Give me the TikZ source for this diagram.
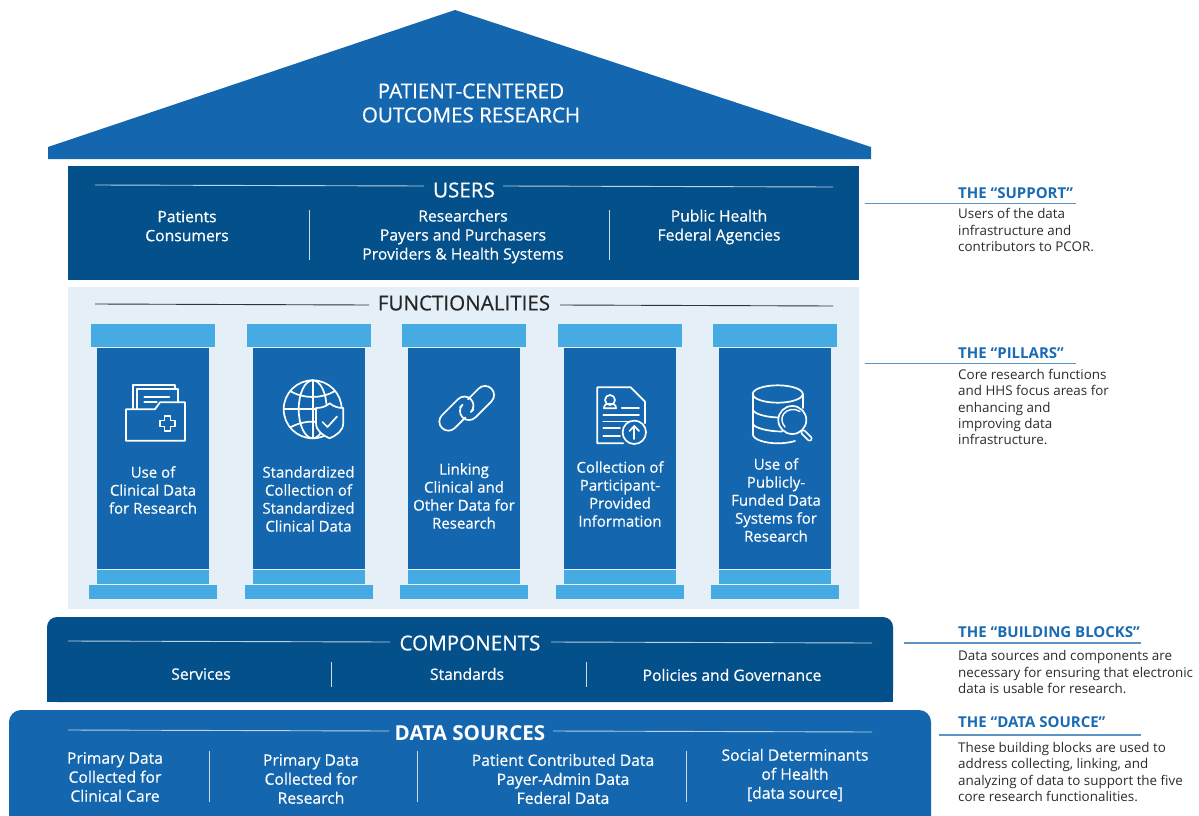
\documentclass[tikz,border=0pt]{standalone}
\usepackage{fontspec}
\setmainfont{Open Sans}
\definecolor{roofblue}{HTML}{1467AE}
\definecolor{navyblue}{HTML}{04508A}
\definecolor{panelblue}{HTML}{E4EFF7}
\definecolor{capblue}{HTML}{47ABE3}
\definecolor{headblue}{HTML}{1A6BB3}
\definecolor{leaderblue}{HTML}{5B93C3}
\definecolor{bodygrey}{HTML}{2B2B2B}
\tikzset{
    whitetxt/.style={text=white, align=center, inner sep=0pt, font=\fontsize{15.7}{19}\selectfont\addfontfeature{FakeBold=0.5}},
    titletxt/.style={text=white, align=center, inner sep=0pt, font=\fontsize{20.6}{24}\selectfont\addfontfeature{FakeBold=0.6}},
    pillartxt/.style={text=white, align=center, inner sep=0pt, font=\fontsize{15}{18}\selectfont\addfontfeature{FakeBold=0.4}},
    headtxt/.style={text=headblue, anchor=west, inner sep=0pt, font=\fontsize{15}{17}\selectfont\bfseries},
    bodytxt/.style={text=bodygrey, anchor=west, align=left, inner sep=0pt, font=\fontsize{13.4}{16.3}\selectfont},
    leader/.style={draw=leaderblue, line width=1.1pt},
    lightrule/.style={draw=white!75!navyblue, line width=0.9pt},
    divider/.style={draw=white!80!navyblue, line width=0.9pt},
    icon/.style={draw=white, line width=1.7pt, line join=round, line cap=round}
}
\begin{document}
\begin{tikzpicture}[x=1pt, y=-1pt]
    \useasboundingbox (0,0) rectangle (1199,816);
    \fill [roofblue] (455,10) -- (871,147) -- (871,159) -- (48,159) -- (48,147) -- cycle;
    \node [titletxt] (roofTitle) at (471,103) {PATIENT-CENTERED\\OUTCOMES RESEARCH};

    \fill [navyblue] (68,166) rectangle (859,280);
    \node [titletxt] (usersTitle) at (464,190) {USERS};
    \coordinate (usersRuleA) at (95,185);
    \coordinate (usersRuleB) at (424,186);
    \coordinate (usersRuleC) at (503,186);
    \coordinate (usersRuleD) at (833,187);
    \draw [lightrule] (usersRuleA) -- (usersRuleB);
    \draw [lightrule] (usersRuleC) -- (usersRuleD);
    \node [whitetxt] (usersLeft) at (187,226) {Patients\\Consumers};
    \node [whitetxt] (usersMid) at (463,236.5) {Researchers\\Payers and Purchasers\\Providers \& Health Systems};
    \node [whitetxt] (usersRight) at (719,227) {Public Health\\Federal Agencies};
    \foreach \x in {309.5,609.5}
        \draw [divider] (\x,210) -- (\x,260);

    \fill [panelblue] (68,287) rectangle (859,609);
    \node [titletxt, text=black!85] (funcTitle) at (464,303) {FUNCTIONALITIES};
    \coordinate (funcRuleA) at (95,304);
    \coordinate (funcRuleB) at (369,305);
    \coordinate (funcRuleC) at (560,305);
    \coordinate (funcRuleD) at (833,306);
    \draw [black!80, line width=0.9pt] (funcRuleA) -- (funcRuleB);
    \draw [black!80, line width=0.9pt] (funcRuleC) -- (funcRuleD);
    \foreach \x in {0,155.5,311,466.5,622} {
        \fill [capblue] (91+\x,324) rectangle (215+\x,347);
        \fill [roofblue] (97+\x,348) rectangle (209+\x,569);
        \fill [capblue] (97+\x,570) rectangle (209+\x,584);
        \fill [capblue] (89+\x,585) rectangle (217+\x,599);
    }
    \node [pillartxt] (pillarA) at (153,490) {Use of\\Clinical Data\\for Research};
    \node [pillartxt] (pillarB) at (308.5,499) {Standardized\\Collection of\\Standardized\\Clinical Data};
    \node [pillartxt] (pillarC) at (464,496) {Linking\\Clinical and\\Other Data for\\Research};
    \node [pillartxt] (pillarD) at (620,494) {Collection of\\Participant-\\Provided\\Information};
    \node [pillartxt] (pillarE) at (776,500) {Use of\\Publicly-\\Funded Data\\Systems for\\Research};

    \draw [icon] (132.7,409) -- (132.7,385) -- (175.3,385) -- (175.3,389);
    \draw [icon] (137.3,409) -- (137.3,389) -- (178.3,389) -- (178.3,402);
    \draw [icon] (144.3,396.7) -- (169.3,396.7);
    \draw [icon] (144.3,401.7) -- (156.7,401.7);
    \draw [icon] (126,440.7) -- (126,409.3) -- (155,409.3) -- (160,402.3) -- (185,402.3) -- (185,440.7) -- cycle;
    \draw [icon, line width=1.5pt] (164.7,415.8) -- (170.7,415.8) -- (170.7,420.3) -- (175.2,420.3) -- (175.2,426.3) -- (170.7,426.3) -- (170.7,430.8) -- (164.7,430.8) -- (164.7,426.3) -- (160.2,426.3) -- (160.2,420.3) -- (164.7,420.3) -- cycle;

    \draw [icon] (312.7,409.3) circle (29);
    \draw [icon] (312.7,409.3) ellipse [x radius=14, y radius=29];
    \draw [icon] (312.7,380.3) -- (312.7,438.3);
    \draw [icon] (283.7,409.3) -- (341.7,409.3);
    \draw [icon] (290,391) .. controls (304,399) and (321,399) .. (335,391);
    \draw [icon] (290,427.6) .. controls (304,419.6) and (321,419.6) .. (335,427.6);
    \draw [icon, fill=roofblue] (329.7,403.3) .. controls (334,407) and (339,408) .. (343.3,408) -- (343.3,423) .. controls (343.3,431) and (336,435.5) .. (329.7,438.3) .. controls (323,435.5) and (316,431) .. (316,423) -- (316,408) .. controls (320.5,408) and (325.5,407) .. (329.7,403.3) -- cycle;
    \draw [icon] (322.5,422) -- (327.5,427) -- (337,416.5);

    \draw [icon, rounded corners=9pt] (468,399.2) -- (485,382.2) -- (497.8,395) -- (469,423.8) -- (456.2,411) -- (460,407.2);
    \draw [icon, rounded corners=9pt] (465.4,417.4) -- (448.4,434.4) -- (435.6,421.6) -- (464.4,392.8) -- (477.2,405.6) -- (473.4,409.4);

    \draw [icon] (623.3,443.3) -- (597.3,443.3) -- (597.3,387.3) -- (630.7,387.3) -- (645,401.7) -- (645,423.3);
    \draw [icon] (610,400) circle (5);
    \draw [icon] (604,408.3) .. controls (604,404) and (607,404.5) .. (607,404) -- (613,404) .. controls (613,404.5) and (616,404) .. (616,408.3) -- cycle;
    \draw [icon] (621.7,408.3) -- (639,408.3);
    \draw [icon] (603.3,415) -- (639,415);
    \draw [icon] (603.3,421.5) -- (630,421.5);
    \draw [icon] (603.3,428.3) -- (620,428.3);
    \draw [icon] (603.3,436) -- (620,436);
    \draw [icon, fill=roofblue] (634.3,432.3) circle (11.7);
    \draw [icon] (634.3,439) -- (634.3,426.5);
    \draw [icon] (629.5,431) -- (634.3,426) -- (639.1,431);

    \draw [icon] (777.7,394) ellipse [x radius=25, y radius=8.7];
    \draw [icon] (752.7,394) -- (752.7,434);
    \draw [icon] (802.7,394) -- (802.7,408);
    \draw [icon] (752.7,434) .. controls (753,440) and (766,443.3) .. (777.7,443.3) .. controls (784,443.3) and (790,442.5) .. (795,441);
    \draw [icon] (752.7,410) .. controls (755,414) and (765,417) .. (778,417.5);
    \draw [icon] (752.7,424) .. controls (755,428) and (768,431.5) .. (782,431.5);
    \draw [icon, fill=roofblue] (792.3,420) circle (14);
    \draw [icon, line width=1.4pt] (800,411.5) .. controls (795,408) and (787,409) .. (783.5,414) .. controls (781,418) and (781.5,423) .. (785,427);
    \draw [icon, line width=1.5pt, rounded corners=2pt] (800.5,432.5) -- (803.5,429.5) -- (812.5,438.5) -- (809.5,441.5) -- cycle;

    \fill [navyblue, rounded corners=10pt] (47,702) -- (47,617) -- (893,617) -- (893,702) -- cycle;
    \fill [navyblue] (47,690) rectangle (893,702);
    \node [titletxt] (compTitle) at (470,643) {COMPONENTS};
    \coordinate (compRuleA) at (68,641);
    \coordinate (compRuleB) at (390,642);
    \coordinate (compRuleC) at (551,642);
    \coordinate (compRuleD) at (872,643);
    \draw [lightrule] (compRuleA) -- (compRuleB);
    \draw [lightrule] (compRuleC) -- (compRuleD);
    \node [whitetxt] (compLeft) at (201,674) {Services};
    \node [whitetxt] (compMid) at (467,674) {Standards};
    \node [whitetxt] (compRight) at (732,675) {Policies and Governance};
    \foreach \x in {331,586}
        \draw [divider] (\x,662) -- (\x,687);

    \fill [roofblue, rounded corners=12pt] (9,830) -- (9,710) -- (931,710) -- (931,830) -- cycle;
    \node [titletxt, font=\fontsize{20.6}{24}\selectfont\bfseries] (dataTitle) at (470,733) {DATA SOURCES};
    \coordinate (dataRuleA) at (68,730);
    \coordinate (dataRuleB) at (389,731);
    \coordinate (dataRuleC) at (553,731);
    \coordinate (dataRuleD) at (872,732);
    \draw [lightrule] (dataRuleA) -- (dataRuleB);
    \draw [lightrule] (dataRuleC) -- (dataRuleD);
    \node [whitetxt] (dataA) at (115,777) {Primary Data\\Collected for\\Clinical Care};
    \node [whitetxt] (dataB) at (311,779) {Primary Data\\Collected for\\Research};
    \node [whitetxt] (dataC) at (563,779) {Patient Contributed Data\\Payer-Admin Data\\Federal Data};
    \node [whitetxt] (dataD) at (795,775) {Social Determinants\\of Health\\{[data source]}};
    \foreach \x in {209.5,417.5,686.5}
        \draw [divider] (\x,751) -- (\x,802);

    \node [headtxt] (supportHead) at (958,193) {THE “SUPPORT”};
    \coordinate (supportA) at (865,203.5);
    \coordinate (supportB) at (1076,203.5);
    \draw [leader] (supportA) -- (supportB);
    \node [bodytxt] (supportText) at (958,230) {Users of the data\\infrastructure and\\contributors to PCOR.};
    \node [headtxt] (pillarsHead) at (958,353) {THE “PILLARS”};
    \coordinate (pillarsA) at (865,363.5);
    \coordinate (pillarsB) at (1076,363.5);
    \draw [leader] (pillarsA) -- (pillarsB);
    \node [bodytxt] (pillarsText) at (958,407) {Core research functions\\and HHS focus areas for\\enhancing and\\improving data\\infrastructure.};
    \node [headtxt] (blocksHead) at (958,632) {THE “BUILDING BLOCKS”};
    \coordinate (blocksA) at (904,643);
    \coordinate (blocksB) at (1141,643);
    \draw [leader] (blocksA) -- (blocksB);
    \node [bodytxt] (blocksText) at (958,672) {Data sources and components are\\necessary for ensuring that electronic\\data is usable for research.};
    \node [headtxt] (sourceHead) at (958,722) {THE “DATA SOURCE”};
    \coordinate (sourceA) at (939,735);
    \coordinate (sourceB) at (1141,735);
    \draw [leader] (sourceA) -- (sourceB);
    \node [bodytxt] (sourceText) at (958,772) {These building blocks are used to\\address collecting, linking, and\\analyzing of data to support the five\\core research functionalities.};
\end{tikzpicture}
\end{document}
